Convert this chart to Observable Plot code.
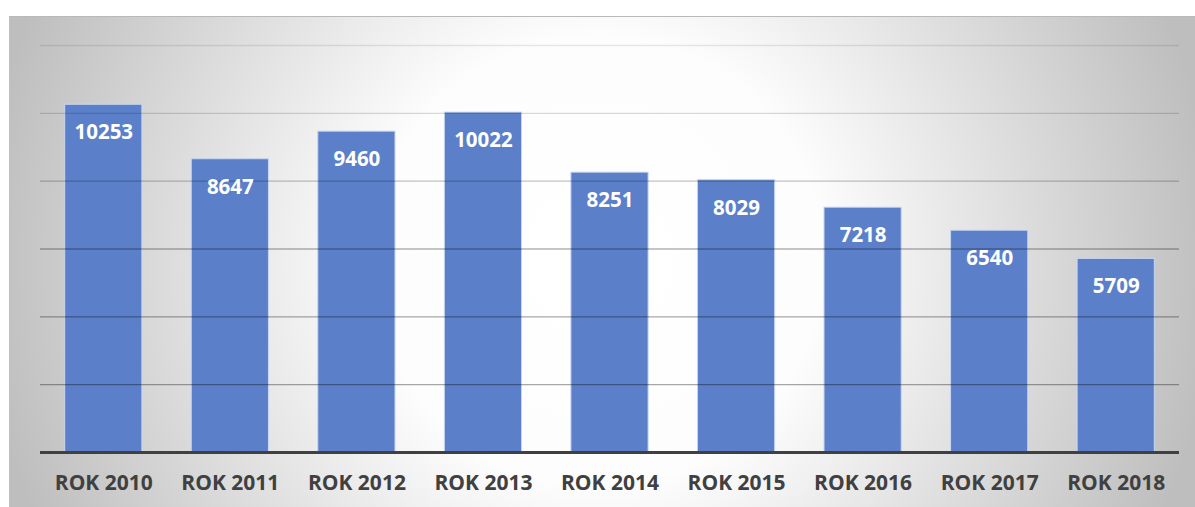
<!DOCTYPE html>
<html><head><meta charset="utf-8">
<script src="https://cdn.jsdelivr.net/npm/d3@7"></script>
<script src="https://cdn.jsdelivr.net/npm/@observablehq/plot@0.6"></script>
<style>
html,body{margin:0;padding:0;background:#fff;}
#wrap{position:relative;width:1195px;height:507px;overflow:hidden;}
#bg{position:absolute;left:9px;top:16px;width:1186px;height:491px;border-top:1px solid #b9b9b9;border-left:1px solid #c0c0c0;box-sizing:border-box;
 background:radial-gradient(circle 620px at 588px 244px,#ffffff 0%,#fdfdfd 36%,#bebebe 100%);}
#chart{position:absolute;left:0;top:0;}
#chart svg{overflow:visible;}
#chart g[aria-label="x-axis tick label"] text{font-weight:bold;}
</style></head><body>
<div id="wrap"><div id="bg"></div><div id="chart"></div></div>
<script>
const years = ["ROK 2010","ROK 2011","ROK 2012","ROK 2013","ROK 2014","ROK 2015","ROK 2016","ROK 2017","ROK 2018"];
const counts = [10253, 8647, 9460, 10022, 8251, 8029, 7218, 6540, 5709];
const gridTicks = [2000, 4000, 6000, 8000, 10000, 12000];

const data = years.map((year, i) => ({year, count: counts[i]}));

const plot = Plot.plot({
  width: 1195, height: 507,
  marginLeft: 40, marginRight: 16, marginTop: 45, marginBottom: 55,
  style: {background: "transparent", fontFamily: "'Open Sans', sans-serif"},
  x: {domain: years, paddingInner: 0.39, paddingOuter: 0.195, round: false, label: null},
  y: {domain: [0, 12000], axis: null},
  marks: [
    Plot.barY(data, {x: "year", y: "count", fill: "#5b80c9", stroke: "#c9d6ef", strokeWidth: 1}),
    Plot.ruleY(gridTicks, {stroke: "#000", strokeWidth: 1.3,
      strokeOpacity: d => d >= 12000 ? 0.09 : d >= 10000 ? 0.15 : d >= 8000 ? 0.24 : d >= 6000 ? 0.3 : 0.34}),
    Plot.ruleY([0], {stroke: "#404040", strokeWidth: 3}),
    Plot.text(data, {x: "year", y: "count", text: d => String(d.count), dy: 28,
      fill: "white", fontSize: 20.5, fontWeight: "bold"}),
    Plot.axisX({tickSize: 0, tickPadding: 23, fontSize: 21, fontWeight: "bold", fill: "#404040", label: null})
  ]
});
document.getElementById("chart").appendChild(plot);
</script>
</body></html>
